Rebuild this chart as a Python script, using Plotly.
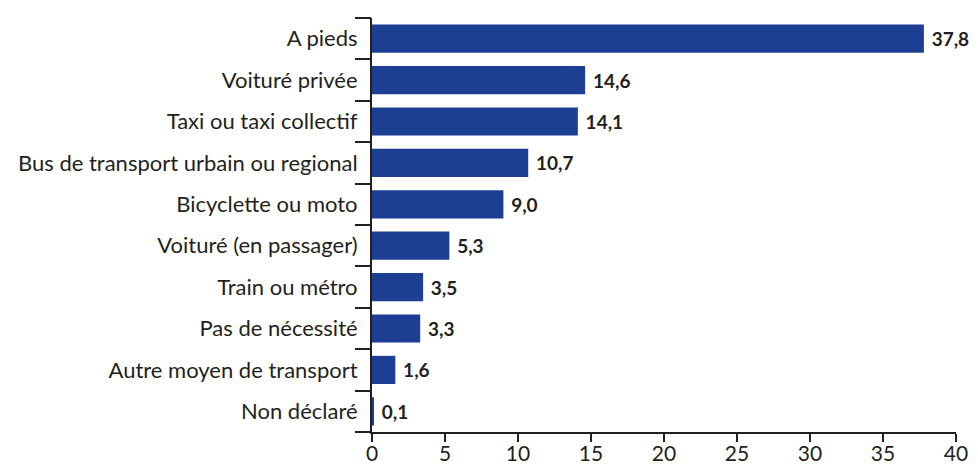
import plotly.graph_objects as go

categories = [
    "A pieds",
    "Voituré privée",
    "Taxi ou taxi collectif",
    "Bus de transport urbain ou regional",
    "Bicyclette ou moto",
    "Voituré (en passager)",
    "Train ou métro",
    "Pas de nécessité",
    "Autre moyen de transport",
    "Non déclaré",
]
values = [37.8, 14.6, 14.1, 10.7, 9.0, 5.3, 3.5, 3.3, 1.6, 0.1]
labels = [f"\u2009\u2009{v:.1f}".replace(".", ",") for v in values]
x_ticks = [0, 5, 10, 15, 20, 25, 30, 35, 40]

FONT = "Lato"
DARK = "#231f20"

n = len(categories)
boundaries = [i - 0.5 for i in range(n + 1)]

fig = go.Figure(
    go.Bar(
        x=values,
        y=categories,
        orientation="h",
        marker=dict(color="#1c3f94", line=dict(width=0)),
        width=0.68,
        text=labels,
        textposition="outside",
        textfont=dict(family=FONT, size=19, color=DARK, weight="bold"),
        cliponaxis=False,
    )
)
# empty trace so the tick-only overlay axis gets drawn
fig.add_trace(go.Scatter(x=[], y=[], yaxis="y2", showlegend=False))

# the page body adds an 8px margin, so the figure is offset by it
fig.update_layout(
    width=978,
    height=457,
    margin=dict(l=358, r=30, t=10, b=33),
    plot_bgcolor="white",
    paper_bgcolor="white",
    showlegend=False,
    font=dict(family=FONT, size=21, color=DARK),
    yaxis=dict(
        autorange="reversed",
        ticks="",
        showline=True,
        linecolor=DARK,
        linewidth=2,
        showgrid=False,
        ticklabelstandoff=8,
        tickfont=dict(size=22),
    ),
    yaxis2=dict(
        overlaying="y",
        side="left",
        anchor="x",
        range=[n - 0.5, -0.5],
        tickvals=boundaries,
        showticklabels=False,
        ticks="outside",
        ticklen=16,
        tickwidth=2,
        tickcolor=DARK,
        showline=False,
        showgrid=False,
        zeroline=False,
    ),
)

fig.update_xaxes(
    range=[0, 40],
    tickvals=x_ticks,
    ticks="outside",
    ticklen=8,
    tickwidth=2,
    tickcolor=DARK,
    showline=True,
    linecolor=DARK,
    linewidth=2,
    showgrid=False,
    zeroline=False,
    automargin=False,
    ticklabelstandoff=-6,
    tickfont=dict(size=21),
)

fig.write_html("out.html")
